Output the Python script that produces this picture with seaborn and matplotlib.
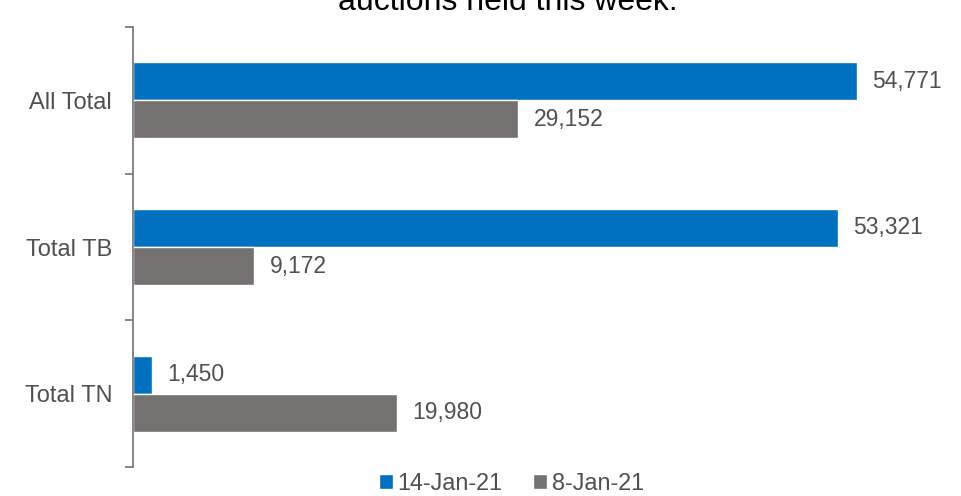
import pandas as pd
import matplotlib.pyplot as plt
import seaborn as sns

# Data
categories = ['All Total', 'Total TB', 'Total TN']
dates = ['14-Jan-21', '8-Jan-21']
values_14jan = [54771, 53321, 1450]
values_8jan = [29152, 9172, 19980]
colors = ['#0070C0', '#767171']

df = pd.DataFrame({
    'category': categories * 2,
    'date': [dates[0]] * 3 + [dates[1]] * 3,
    'value': values_14jan + values_8jan,
})

sns.set_style('white')
plt.rcParams['font.family'] = ['Liberation Sans', 'DejaVu Sans']
text_color = '#505050'

fig = plt.figure(figsize=(9.61, 4.96), dpi=100)
ax = fig.add_axes([0.1384, 0.0585, 0.853, 0.887])

sns.barplot(data=df, y='category', x='value', hue='date', order=categories,
            hue_order=dates, palette=colors, orient='h', width=0.52,
            saturation=1, ax=ax)

# value labels
for cont in ax.containers:
    ax.bar_label(cont, fmt='{:,.0f}', padding=11, fontsize=16.5, color=text_color)

ax.set_xlim(0, 62000)
ax.set_ylim(2.5, -0.5)
ax.set_xlabel('')
ax.set_ylabel('')
ax.set_xticks([])

# category labels centered, tick marks on the boundaries
ax.set_yticks(range(len(categories)))
ax.set_yticklabels(categories, fontsize=17, color=text_color)
ax.tick_params(axis='y', which='major', length=0, pad=15)
ax.set_yticks([-0.5, 0.5, 1.5, 2.5], minor=True)
ax.tick_params(axis='y', which='minor', length=6, width=1.2, color='#767171', left=True)

for side in ['top', 'right', 'bottom']:
    ax.spines[side].set_visible(False)
ax.spines['left'].set_color('#767171')
ax.spines['left'].set_linewidth(1.2)

# title line (partly cut off at the top in the reference)
fig.text(0.528, 0.98, 'auctions held this week.', ha='center', va='baseline',
         fontsize=23, color='#000000')

ax.legend(loc='center', ncol=2, frameon=False, fontsize=16.8,
          handlelength=0.6, handleheight=0.6, handletextpad=0.2,
          columnspacing=1.3, labelcolor=text_color)
ax.get_legend().set_bbox_to_anchor((0.532, 0.026), transform=fig.transFigure)

fig.savefig('out.png', dpi=100)
